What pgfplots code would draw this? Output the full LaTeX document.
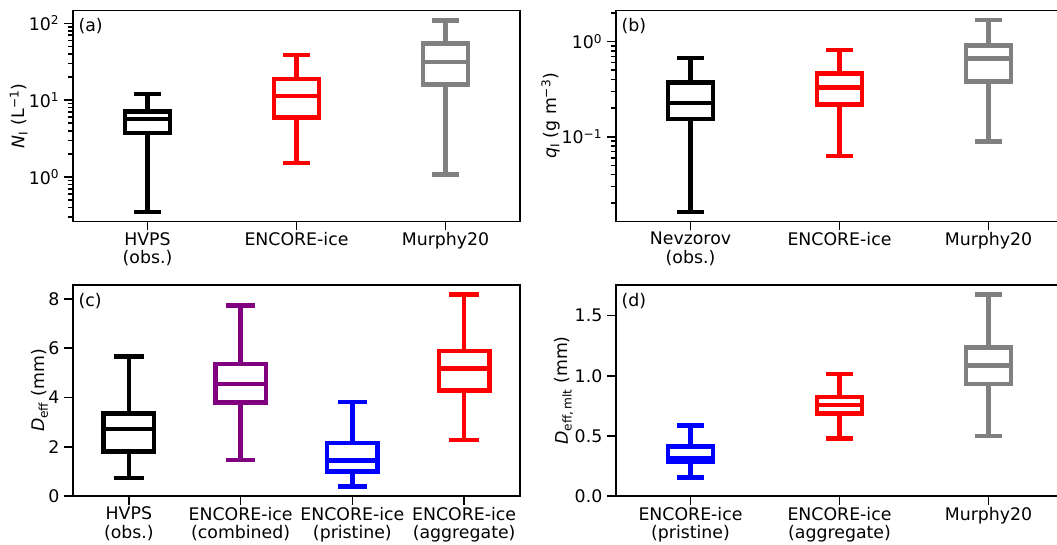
\documentclass[border=0pt]{standalone}
\usepackage{fontspec}
\setmainfont{DejaVu Sans}
\usepackage{pgfplots}
\pgfplotsset{compat=1.18}
\usepgfplotslibrary{statistics}
\definecolor{mgray}{HTML}{808080}
\definecolor{mpurple}{HTML}{800080}
\definecolor{mred}{HTML}{FF0000}
\definecolor{mblue}{HTML}{0000FF}
\newcommand{\fs}{\fontsize{13}{14}\selectfont}
\pgfplotsset{
 panel/.style={
  scale only axis, width=335.25pt, height=158.25pt,
  axis line style={line width=1.2pt},
  every tick/.style={line width=1.2pt, black},
  major tick length=6.75pt, minor tick length=4pt,
  tick align=outside, xtick pos=bottom, ytick pos=left,
  tick label style={font=\fs},
  label style={font=\fs},
  xticklabel style={align=center, yshift=2pt},
  /pgf/number format/assume math mode=true,
  xtick={1,2,3,4},
 },
 ylab/.style={ylabel style={at={(rel axis cs:0,0.5)}, anchor=south, inner sep=0pt, yshift=#1}},
 bx/.style={boxplot prepared={draw direction=y, #1}, line width=3.4pt, line cap=rect, solid, mark=none},
}
\begin{document}
\begin{tikzpicture}
\path[use as bounding box] (0,0) rectangle (792.75pt,408.75pt);
% (a)
\begin{axis}[panel, at={(54.75pt,401pt)}, anchor=north west,
  xmin=0.5, xmax=3.5, ymode=log, ymin=0.264, ymax=148,
  xticklabels={{HVPS\\(obs.)},{ENCORE-ice},{Murphy20}},
  ytick={1,10,100}, yticklabels={10\textsuperscript{0},10\textsuperscript{1},10\textsuperscript{2}},
  minor ytick={0.3,0.4,0.5,0.6,0.7,0.8,0.9,2,3,4,5,6,7,8,9,20,30,40,50,60,70,80,90},
  ylab=33.75pt,
  ylabel={\textit{N}\textsubscript{I} (L\textsuperscript{−1})}]
\addplot[draw=black, bx={draw position=1, box extend=0.3, whisker extend=0.15, lower whisker=0.347, lower quartile=3.75, median=5.65, upper quartile=7.1, upper whisker=12}] coordinates {};
\addplot[draw=mred, bx={draw position=2, box extend=0.3, whisker extend=0.15, lower whisker=1.52, lower quartile=5.9, median=11.3, upper quartile=18.8, upper whisker=38.6}] coordinates {};
\addplot[draw=mgray, bx={draw position=3, box extend=0.3, whisker extend=0.15, lower whisker=1.07, lower quartile=16.0, median=31.6, upper quartile=54.8, upper whisker=109}] coordinates {};
\node[anchor=north west, font=\fs, inner sep=0pt] at (rel axis cs:0,1) [xshift=4pt, yshift=-6pt] {(a)};
\end{axis}
% (b)
\begin{axis}[panel, at={(462pt,401pt)}, anchor=north west,
  xmin=0.5, xmax=3.5, ymode=log, ymin=0.0129, ymax=2.13,
  xticklabels={{Nevzorov\\(obs.)},{ENCORE-ice},{Murphy20}},
  ytick={0.1,1}, yticklabels={10\textsuperscript{−1},10\textsuperscript{0}},
  minor ytick={0.02,0.03,0.04,0.05,0.06,0.07,0.08,0.09,0.2,0.3,0.4,0.5,0.6,0.7,0.8,0.9,2},
  ylab=42pt,
  ylabel={\textit{q}\textsubscript{I} (g m\textsuperscript{−3})}]
\addplot[draw=black, bx={draw position=1, box extend=0.3, whisker extend=0.15, lower whisker=0.0161, lower quartile=0.154, median=0.227, upper quartile=0.369, upper whisker=0.673}] coordinates {};
\addplot[draw=mred, bx={draw position=2, box extend=0.3, whisker extend=0.15, lower whisker=0.0625, lower quartile=0.218, median=0.329, upper quartile=0.463, upper whisker=0.817}] coordinates {};
\addplot[draw=mgray, bx={draw position=3, box extend=0.3, whisker extend=0.15, lower whisker=0.0894, lower quartile=0.381, median=0.661, upper quartile=0.914, upper whisker=1.68}] coordinates {};
\node[anchor=north west, font=\fs, inner sep=0pt] at (rel axis cs:0,1) [xshift=4pt, yshift=-6pt] {(b)};
\end{axis}
% (c)
\begin{axis}[panel, at={(54.75pt,195pt)}, anchor=north west,
  xmin=0.5, xmax=4.5, ymin=0, ymax=8.57,
  xticklabels={{HVPS\\(obs.)},{ENCORE-ice\\(combined)},{ENCORE-ice\\(pristine)},{ENCORE-ice\\(aggregate)}},
  ytick={0,2,4,6,8},
  ylab=18.5pt,
  ylabel={\textit{D}\textsubscript{eff} (mm)}]
\addplot[draw=black, bx={draw position=1, box extend=0.45, whisker extend=0.225, lower whisker=0.74, lower quartile=1.81, median=2.73, upper quartile=3.36, upper whisker=5.66}] coordinates {};
\addplot[draw=mpurple, bx={draw position=2, box extend=0.45, whisker extend=0.225, lower whisker=1.46, lower quartile=3.80, median=4.55, upper quartile=5.36, upper whisker=7.74}] coordinates {};
\addplot[draw=mblue, bx={draw position=3, box extend=0.45, whisker extend=0.225, lower whisker=0.39, lower quartile=1.00, median=1.44, upper quartile=2.15, upper whisker=3.82}] coordinates {};
\addplot[draw=mred, bx={draw position=4, box extend=0.45, whisker extend=0.225, lower whisker=2.27, lower quartile=4.28, median=5.17, upper quartile=5.88, upper whisker=8.19}] coordinates {};
\node[anchor=north west, font=\fs, inner sep=0pt] at (rel axis cs:0,1) [xshift=4pt, yshift=-6pt] {(c)};
\end{axis}
% (d)
\begin{axis}[panel, at={(462pt,195pt)}, anchor=north west,
  xmin=0.5, xmax=3.5, ymin=0, ymax=1.755,
  xticklabels={{ENCORE-ice\\(pristine)},{ENCORE-ice\\(aggregate)},{Murphy20}},
  ytick={0,0.5,1,1.5},
  yticklabel style={/pgf/number format/.cd, fixed, fixed zerofill, precision=1},
  ylab=32pt,
  ylabel={\textit{D}\textsubscript{eff,\,mlt} (mm)}]
\addplot[draw=mblue, bx={draw position=1, box extend=0.3, whisker extend=0.15, lower whisker=0.155, lower quartile=0.282, median=0.316, upper quartile=0.412, upper whisker=0.586}] coordinates {};
\addplot[draw=mred, bx={draw position=2, box extend=0.3, whisker extend=0.15, lower whisker=0.478, lower quartile=0.686, median=0.758, upper quartile=0.825, upper whisker=1.013}] coordinates {};
\addplot[draw=mgray, bx={draw position=3, box extend=0.3, whisker extend=0.15, lower whisker=0.50, lower quartile=0.933, median=1.085, upper quartile=1.237, upper whisker=1.678}] coordinates {};
\node[anchor=north west, font=\fs, inner sep=0pt] at (rel axis cs:0,1) [xshift=4pt, yshift=-6pt] {(d)};
\end{axis}
\end{tikzpicture}
\end{document}
